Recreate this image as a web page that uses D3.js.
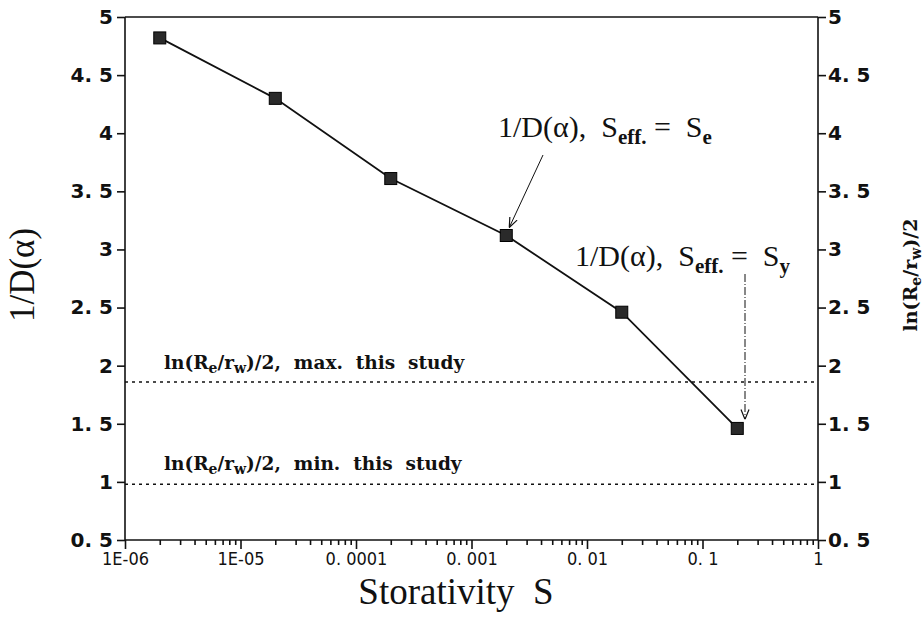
<!DOCTYPE html>
<html>
<head>
<meta charset="utf-8">
<script src="https://cdn.jsdelivr.net/npm/d3@7"></script>
<style>
  body { margin: 0; background: #fff; }
  svg { display: block; }
  text { white-space: pre; }
  .tick-y text { font-family: "DejaVu Sans", sans-serif; font-weight: bold; font-size: 20px; fill: #111; }
  .tick-x text { font-family: "DejaVu Sans Condensed", "DejaVu Sans", sans-serif; font-size: 18px; fill: #111; }
  .serif { font-family: "Liberation Serif", "DejaVu Serif", serif; fill: #111; }
  .serif-wide { font-family: "DejaVu Serif", serif; font-weight: bold; fill: #111; }
</style>
</head>
<body>
<svg id="chart" width="923" height="622"></svg>
<script>
"use strict";

// Data
const storativity = [2e-6, 2e-5, 2e-4, 2e-3, 2e-2, 2e-1];
const invD = [4.82, 4.30, 3.61, 3.12, 2.46, 1.46];
const refLines = [1.86, 0.98];       // ln(Re/rw)/2, max and min of this study
const yTicks = [0.5, 1, 1.5, 2, 2.5, 3, 3.5, 4, 4.5, 5];
const yTickLabels = ["0. 5", "1", "1. 5", "2", "2. 5", "3", "3. 5", "4", "4. 5", "5"];
const xTicks = [1e-6, 1e-5, 1e-4, 1e-3, 1e-2, 1e-1, 1];
const xTickLabels = ["1E-06", "1E-05", "0. 0001", "0. 001", "0. 01", "0. 1", "1"];

const margin = { left: 125, right: 105, top: 17, bottom: 82 };
const width = 923, height = 622;

const svg = d3.select('#chart');

const x = d3.scaleLog()
    .domain([1e-6, 1])
    .range([margin.left, width - margin.right]);
const y = d3.scaleLinear()
    .domain([0.5, 5])
    .range([height - margin.bottom, margin.top]);

// Top line of the frame
svg.append('line')
    .attr('x1', x(1e-6)).attr('x2', x(1))
    .attr('y1', y(5)).attr('y2', y(5))
    .attr('stroke', '#111').attr('stroke-width', 1.6);

// Left axis
const yLeft = svg.append('g')
    .attr('class', 'tick-y')
    .attr('transform', 'translate(' + x(1e-6) + ',0)')
    .call(d3.axisLeft(y).tickValues(yTicks).tickSize(8).tickPadding(4)
        .tickFormat((d, i) => yTickLabels[i]));

// Right axis
const yRight = svg.append('g')
    .attr('class', 'tick-y')
    .attr('transform', 'translate(' + x(1) + ',0)')
    .call(d3.axisRight(y).tickValues(yTicks).tickSize(8).tickPadding(2)
        .tickFormat((d, i) => yTickLabels[i]));

// Bottom axis with minor ticks
const minorTicks = [];
for (let e = -6; e < 0; e++) {
    for (let m = 2; m <= 9; m++) {
        minorTicks.push(m * Math.pow(10, e));
    }
}
svg.append('g')
    .attr('transform', 'translate(0,' + y(0.5) + ')')
    .call(d3.axisBottom(x).tickValues(minorTicks).tickSize(5).tickFormat(''))
    .call(g => g.select('.domain').remove());

const xAxis = svg.append('g')
    .attr('class', 'tick-x')
    .attr('transform', 'translate(0,' + y(0.5) + ')')
    .call(d3.axisBottom(x).tickValues(xTicks).tickSize(9).tickPadding(3)
        .tickFormat((d, i) => xTickLabels[i]));

svg.selectAll('.domain, .tick line')
    .attr('stroke', '#111')
    .attr('stroke-width', 1.6);
// straight axis lines, no end caps
yLeft.select('.domain').attr('d', 'M0,' + y(0.5) + 'V' + y(5));
yRight.select('.domain').attr('d', 'M0,' + y(0.5) + 'V' + y(5));
xAxis.select('.domain').attr('d', 'M' + x(1e-6) + ',0H' + x(1));

// Reference dotted lines
svg.append('g')
    .selectAll('line')
    .data(refLines)
    .enter().append('line')
    .attr('x1', x(1e-6)).attr('x2', x(1))
    .attr('y1', d => y(d)).attr('y2', d => y(d))
    .attr('stroke', '#111')
    .attr('stroke-width', 1.6)
    .attr('stroke-dasharray', '3,4');

// ln(Re/rw)/2 text with subscripts
function lnText(t, size, tail) {
    const sub = Math.round(size * 0.75);
    t.append('tspan').text('ln(R');
    t.append('tspan').attr('dy', 4).style('font-size', sub + 'px').text('e');
    t.append('tspan').attr('dy', -4).text('/r');
    t.append('tspan').attr('dy', 4).style('font-size', sub + 'px').text('w');
    t.append('tspan').attr('dy', -4).text(')/2' + tail);
    return t;
}
function lnLabel(xPos, yPos, tail) {
    const t = svg.append('text')
        .attr('class', 'serif-wide')
        .attr('x', xPos).attr('y', yPos)
        .style('font-size', '18.5px');
    return lnText(t, 18.5, tail);
}
lnLabel(164, y(refLines[0]) - 13, ',  max.  this  study');
lnLabel(164, y(refLines[1]) - 14, ',  min.  this  study');

// Data line and markers
const line = d3.line()
    .x((d, i) => x(storativity[i]))
    .y(d => y(d));

svg.append('path')
    .datum(invD)
    .attr('d', line)
    .attr('fill', 'none')
    .attr('stroke', '#111')
    .attr('stroke-width', 1.8);

svg.append('g')
    .selectAll('rect')
    .data(invD)
    .enter().append('rect')
    .attr('x', (d, i) => x(storativity[i]) - 6)
    .attr('y', d => y(d) - 6)
    .attr('width', 12)
    .attr('height', 12)
    .attr('fill', '#2a2a2a')
    .attr('stroke', '#000')
    .attr('stroke-width', 1);

// Arrow marker
svg.append('defs').append('marker')
    .attr('id', 'arrowhead')
    .attr('viewBox', '0 -5 10 10')
    .attr('refX', 10)
    .attr('refY', 0)
    .attr('markerWidth', 10)
    .attr('markerHeight', 10)
    .attr('markerUnits', 'userSpaceOnUse')
    .attr('orient', 'auto')
    .append('path')
    .attr('d', 'M0,-4L10,0L0,4')
    .attr('fill', 'none')
    .attr('stroke', '#111')
    .attr('stroke-width', 1.2);

// Annotations
function dLabel(xPos, yPos, sub) {
    const t = svg.append('text')
        .attr('class', 'serif')
        .attr('x', xPos).attr('y', yPos)
        .style('font-size', '30px');
    t.append('tspan').text('1/D(\u03B1),  S');
    t.append('tspan').attr('dy', 7).style('font-size', '21px').style('font-weight', 'bold').text('eff.');
    t.append('tspan').attr('dy', -7).text(' =  S');
    t.append('tspan').attr('dy', 7).style('font-size', '21px').style('font-weight', 'bold').text(sub);
}
dLabel(498, 137, 'e');
dLabel(575, 266, 'y');

svg.append('line')
    .attr('x1', 543).attr('y1', 155)
    .attr('x2', x(storativity[3]) + 3).attr('y2', y(invD[3]) - 8)
    .attr('stroke', '#111').attr('stroke-width', 1)
    .attr('marker-end', 'url(#arrowhead)');

svg.append('line')
    .attr('x1', 745).attr('y1', 274)
    .attr('x2', 745).attr('y2', y(invD[5]) - 9)
    .attr('stroke', '#111').attr('stroke-width', 1)
    .attr('stroke-dasharray', '8,2,1,2')
    .attr('marker-end', 'url(#arrowhead)');

// Axis titles
svg.append('text')
    .attr('class', 'serif')
    .attr('transform', 'translate(34,275) rotate(-90)')
    .attr('text-anchor', 'middle')
    .style('font-size', '35px')
    .text('1/D(\u03B1)');

const rl = svg.append('text')
    .attr('class', 'serif-wide')
    .attr('transform', 'translate(917,275) rotate(-90)')
    .attr('text-anchor', 'middle')
    .style('font-size', '19px');
lnText(rl, 19, '');

svg.append('text')
    .attr('class', 'serif')
    .attr('x', 456)
    .attr('y', 604)
    .attr('text-anchor', 'middle')
    .style('font-size', '37px')
    .text('Storativity  S');
</script>
</body>
</html>
